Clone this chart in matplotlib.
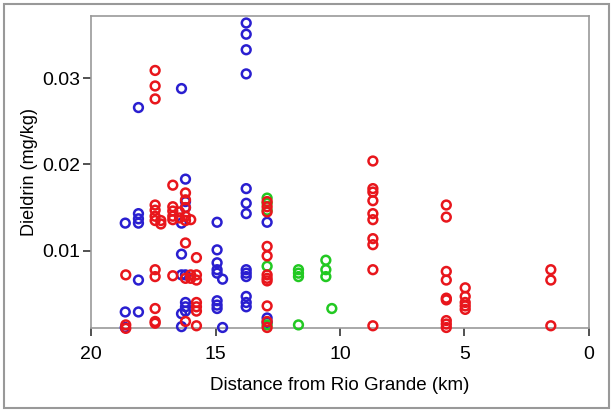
import matplotlib.pyplot as plt
from matplotlib.patches import Rectangle

plt.rcParams['font.family'] = ['Liberation Sans', 'DejaVu Sans']

# Red series
red_x = [18.61] * 3 + [17.43] * 12 + [17.2] * 2 + [16.72] * 6 + [16.45] * 2 + \
        [16.21] * 8 + [16.0] * 3 + [15.77] * 7 + [12.93] * 11 + [8.68] * 10 + \
        [5.73] * 9 + [4.97] * 5 + [1.53] * 3
red_y = [0.0072, 0.0014, 0.0010,
         0.0309, 0.0291, 0.0276, 0.0153, 0.0147, 0.0140, 0.0135, 0.0078, 0.0070, 0.0033, 0.0018, 0.0016,
         0.0135, 0.0131,
         0.0176, 0.0151, 0.0146, 0.0140, 0.0136, 0.0071,
         0.0145, 0.0138,
         0.0167, 0.0159, 0.0150, 0.0140, 0.0135, 0.0109, 0.0068, 0.0018,
         0.0136, 0.0068, 0.0072,
         0.0092, 0.0072, 0.0066, 0.0040, 0.0035, 0.0030, 0.0013,
         0.0157, 0.0151, 0.0145, 0.0105, 0.0094, 0.0072, 0.0068, 0.0065, 0.0036, 0.0018, 0.0011,
         0.0204, 0.0172, 0.0168, 0.0158, 0.0143, 0.0136, 0.0114, 0.0107, 0.0078, 0.0013,
         0.0153, 0.0139, 0.0076, 0.0066, 0.0045, 0.0043, 0.0019, 0.0015, 0.0011,
         0.0057, 0.0047, 0.0040, 0.0036, 0.0032,
         0.0078, 0.0066, 0.0013]

# Blue series
blue_x = [18.63] * 3 + [18.1] * 6 + [16.37] * 6 + [16.21] * 7 + [14.94] * 8 + \
         [14.72] * 2 + [13.77] * 13 + [12.93] * 3
blue_y = [0.0132, 0.0029, 0.0011,
          0.0266, 0.0143, 0.0137, 0.0132, 0.0066, 0.0029,
          0.0288, 0.0132, 0.0096, 0.0072, 0.0027, 0.0012,
          0.0183, 0.0157, 0.0150, 0.0072, 0.0040, 0.0035, 0.0030,
          0.0133, 0.0101, 0.0086, 0.0078, 0.0074, 0.0042, 0.0037, 0.0033,
          0.0067, 0.0011,
          0.0364, 0.0351, 0.0333, 0.0305, 0.0172, 0.0155, 0.0143, 0.0078, 0.0074, 0.0070, 0.0047, 0.0040, 0.0035,
          0.0133, 0.0022, 0.0017]

# Green series
green_x = [12.93] * 5 + [11.67] * 4 + [10.57] * 3 + [10.33]
green_y = [0.0161, 0.0155, 0.0147, 0.0082, 0.0014,
           0.0078, 0.0074, 0.0070, 0.0014,
           0.0089, 0.0078, 0.0070,
           0.0033]

fig = plt.figure(figsize=(6.16, 4.13), dpi=100)
ax = fig.add_axes([0.148, 0.206, 0.808, 0.755])

kw = dict(s=40, facecolors='none', linewidths=1.8, clip_on=False, zorder=3)
ax.scatter(blue_x, blue_y, edgecolors='#2a1fd0', **kw)
ax.scatter(green_x, green_y, edgecolors='#22c922', **kw)
ax.scatter(red_x, red_y, edgecolors='#e8161c', **kw)

ax.set_xlim(20, 0)
ax.set_ylim(0.00105, 0.0372)
ax.set_xticks([20, 15, 10, 5, 0])
ax.set_yticks([0.01, 0.02, 0.03])
ax.set_yticklabels(['0.01', '0.02', '0.03'])

for sp in ax.spines.values():
    sp.set_color('#999999')
    sp.set_linewidth(1.2)
ax.tick_params(axis='both', labelsize=14, color='#333333', width=1.2)
ax.tick_params(axis='y', length=6, pad=2)
ax.tick_params(axis='x', length=6, pad=7)

ax.set_xlabel('Distance from Rio Grande (km)', fontsize=13.5, labelpad=10)
ax.set_ylabel('Dieldrin (mg/kg)', fontsize=13, labelpad=3)

# gray outer frame around the figure
fig.patches.append(Rectangle((0.007, 0.012), 0.982, 0.978, transform=fig.transFigure,
                             fill=False, edgecolor='#999999', linewidth=1.5))

fig.savefig('out.png', dpi=100)
